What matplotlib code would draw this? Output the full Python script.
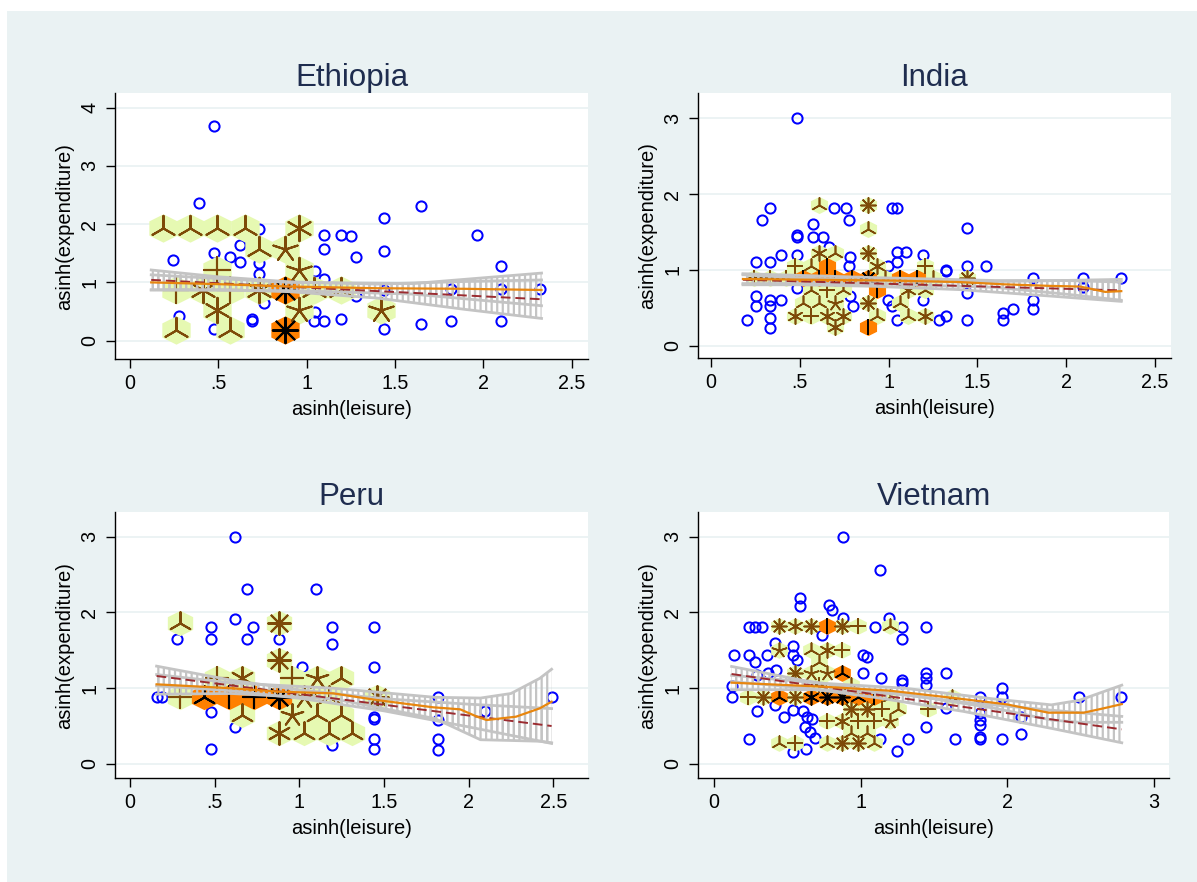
import numpy as np
import matplotlib
matplotlib.use('Agg')
import matplotlib.pyplot as plt
from matplotlib.path import Path
from matplotlib.patches import Rectangle

plt.rcParams['font.family'] = ['Liberation Sans', 'DejaVu Sans']
plt.rcParams['hatch.linewidth'] = 1.6
plt.rcParams['hatch.color'] = '#C4C4C4'

# ---------------- Ethiopia ----------------
eth_circ_x = [0.478, 0.388, 0.246, 0.478, 0.567, 0.624, 0.624, 0.733, 0.733, 0.733, 0.756, 0.690, 0.690, 0.280,
              0.478, 1.050, 1.096, 1.096, 1.096, 1.050, 1.040, 1.100, 1.195, 1.250, 1.280, 1.195, 1.280, 1.440,
              1.440, 1.440, 1.440, 1.647, 1.647, 1.820, 1.820, 1.966, 2.100, 2.100, 2.100, 2.320]
eth_circ_y = [3.69, 2.36, 1.385, 1.51, 1.44, 1.64, 1.345, 1.91, 1.33, 1.14, 0.65, 0.38, 0.34, 0.42,
              0.20, 1.20, 1.81, 1.57, 1.05, 0.50, 0.33, 0.33, 1.81, 1.79, 1.44, 0.38, 0.76, 2.10,
              1.54, 0.87, 0.20, 2.31, 0.28, 0.88, 0.34, 1.81, 1.29, 0.88, 0.34, 0.88]
eth_light_x = [0.185, 0.340, 0.495, 0.652, 0.958, 0.728, 0.879, 0.495, 0.958, 0.261, 0.415, 0.567, 0.728,
               1.040, 1.195, 0.495, 0.958, 1.423, 0.261, 0.567]
eth_light_y = [1.93, 1.93, 1.93, 1.93, 1.93, 1.568, 1.568, 1.214, 1.214, 0.870, 0.870, 0.870, 0.870,
               0.870, 0.870, 0.527, 0.527, 0.527, 0.183, 0.183]
eth_light_n = [3, 3, 3, 3, 6, 3, 5, 4, 5, 4, 6, 4, 6, 3, 3, 6, 5, 5, 3, 3]
eth_dark_x = [0.879, 0.879]
eth_dark_y = [0.870, 0.183]
eth_dark_n = [8, 8]
eth_fit_x = [0.12, 2.33]
eth_fit_y = [1.043, 0.711]
eth_lp_x = [0.12, 0.5, 0.9, 1.4, 1.9, 2.33]
eth_lp_y = [1.00, 0.97, 0.93, 0.90, 0.89, 0.87]
eth_ci_x = [0.12, 0.5, 0.9, 1.4, 1.9, 2.33]
eth_ci_lo = [0.873, 0.876, 0.841, 0.731, 0.536, 0.382]
eth_ci_hi = [1.213, 1.096, 1.011, 0.971, 1.016, 1.042]
eth_lpci_x = [0.12, 0.9, 1.6, 2.33]
eth_lpci_lo = [0.87, 0.86, 0.80, 0.60]
eth_lpci_hi = [1.13, 1.00, 0.98, 1.16]

# ---------------- India ----------------
ind_circ_x = [0.483, 0.332, 0.285, 0.694, 0.760, 0.779, 1.017, 1.049, 0.572, 0.483, 0.483, 0.572, 0.629, 0.666,
              0.253, 0.332, 0.392, 0.483, 0.779, 1.049, 1.098, 1.049, 0.998, 1.195, 1.323, 1.323, 1.443, 1.443,
              1.548, 1.815, 2.093, 2.309, 0.253, 0.253, 0.332, 0.332, 0.332, 0.332, 0.392, 0.204, 0.483, 0.780,
              0.800, 0.996, 1.020, 1.050, 1.195, 1.285, 1.323, 1.443, 1.443, 1.646, 1.646, 1.700, 1.815, 1.815,
              2.093, 0.783]
ind_circ_y = [3.00, 1.82, 1.658, 1.82, 1.82, 1.66, 1.82, 1.82, 1.605, 1.46, 1.44, 1.438, 1.438, 1.306,
              1.10, 1.10, 1.197, 1.197, 1.055, 1.24, 1.24, 1.10, 1.055, 1.197, 0.98, 1.00, 1.557, 1.055,
              1.055, 0.889, 0.889, 0.889, 0.65, 0.52, 0.606, 0.52, 0.37, 0.24, 0.606, 0.339, 0.76, 0.65,
              0.52, 0.606, 0.52, 0.339, 0.606, 0.339, 0.39, 0.69, 0.339, 0.43, 0.339, 0.49, 0.606, 0.49,
              0.78, 1.174]
ind_light_x = [0.610, 0.886, 0.886, 0.610, 0.698, 0.886, 0.473, 0.563, 0.933, 1.205, 0.240, 0.332, 0.424,
               0.980, 1.252, 1.440, 0.563, 0.655, 0.745, 1.111, 1.205, 0.516, 0.610, 0.698, 0.886, 1.064,
               0.473, 0.563, 0.655, 0.745, 0.933, 1.111, 1.205, 0.698]
ind_light_y = [1.856, 1.856, 1.535, 1.219, 1.219, 1.219, 1.051, 1.051, 1.051, 1.051, 0.889, 0.889, 0.889,
               0.889, 0.889, 0.889, 0.735, 0.735, 0.735, 0.735, 0.735, 0.559, 0.559, 0.559, 0.559, 0.559,
               0.392, 0.392, 0.392, 0.392, 0.392, 0.392, 0.392, 0.251]
ind_light_n = [3, 8, 3, 6, 3, 8, 4, 3, 6, 4, 4, 4, 4, 3, 3, 8, 3, 4, 3, 6, 3, 3, 3, 5, 8, 3,
               6, 4, 6, 6, 3, 3, 6, 6]
ind_dark_x = [0.655, 0.516, 0.610, 0.698, 0.792, 0.886, 1.064, 1.158, 0.933, 0.886]
ind_dark_y = [1.051, 0.889, 0.889, 0.889, 0.889, 0.889, 0.889, 0.889, 0.735, 0.251]
ind_dark_n = [2, 2, 2, 2, 2, 8, 2, 2, 2, 2]
ind_fit_x = [0.18, 2.31]
ind_fit_y = [0.87, 0.73]
ind_lp_x = [0.18, 0.6, 1.0, 1.4, 1.65, 1.9, 2.08, 2.22, 2.31]
ind_lp_y = [0.88, 0.87, 0.86, 0.84, 0.81, 0.79, 0.78, 0.71, 0.72]
ind_ci_x = [0.18, 0.5, 0.9, 1.4, 1.9, 2.31]
ind_ci_lo = [0.804, 0.804, 0.785, 0.740, 0.657, 0.585]
ind_ci_hi = [0.936, 0.894, 0.861, 0.840, 0.857, 0.875]
ind_lpci_x = [0.18, 0.9, 1.6, 2.0, 2.31]
ind_lpci_lo = [0.82, 0.82, 0.77, 0.68, 0.60]
ind_lpci_hi = [0.95, 0.90, 0.86, 0.86, 0.84]

# ---------------- Peru ----------------
per_circ_x = [0.620, 0.689, 1.096, 0.620, 0.478, 0.478, 0.280, 0.728, 0.689, 0.880, 1.191, 1.191, 1.441, 1.441,
              1.014, 0.161, 0.187, 0.478, 0.620, 0.478, 1.191, 1.441, 1.441, 1.441, 1.441, 1.817, 1.817, 1.817,
              1.817, 2.096, 2.490]
per_circ_y = [3.00, 2.31, 2.31, 1.913, 1.812, 1.649, 1.649, 1.812, 1.649, 1.649, 1.812, 1.579, 1.812, 1.284,
              1.284, 0.888, 0.888, 0.690, 0.484, 0.198, 0.25, 0.624, 0.589, 0.33, 0.198, 0.888, 0.58, 0.33,
              0.185, 0.70, 0.888]
per_light_x = [0.295, 0.880, 0.880, 0.516, 0.659, 0.955, 1.102, 1.244, 0.295, 1.028, 1.173, 1.457, 0.659,
               0.955, 1.102, 1.244, 0.880, 1.028, 1.173, 1.313]
per_light_y = [1.856, 1.856, 1.372, 1.130, 1.130, 1.130, 1.130, 1.130, 0.888, 0.888, 0.888, 0.888, 0.646,
               0.646, 0.646, 0.646, 0.405, 0.405, 0.405, 0.405]
per_light_n = [3, 8, 8, 4, 6, 4, 5, 3, 4, 5, 3, 8, 3, 5, 3, 3, 6, 3, 3, 3]
per_dark_x = [0.439, 0.585, 0.732, 0.880]
per_dark_y = [0.888, 0.888, 0.888, 0.888]
per_dark_n = [3, 2, 4, 8]
per_fit_x = [0.157, 2.49]
per_fit_y = [1.161, 0.501]
per_lp_x = [0.157, 0.61, 0.88, 1.2, 1.457, 1.79, 1.95, 2.05, 2.106, 2.28, 2.42, 2.49]
per_lp_y = [1.051, 0.998, 0.954, 0.932, 0.844, 0.748, 0.721, 0.624, 0.58, 0.624, 0.734, 0.822]
per_ci_x = [0.157, 0.6, 1.0, 1.5, 2.0, 2.49]
per_ci_lo = [1.031, 0.966, 0.867, 0.701, 0.489, 0.271]
per_ci_hi = [1.291, 1.106, 0.977, 0.861, 0.789, 0.731]
per_lpci_x = [0.157, 0.6, 1.2, 1.8, 2.07, 2.25, 2.42, 2.49]
per_lpci_lo = [0.92, 0.93, 0.86, 0.60, 0.32, 0.31, 0.30, 0.28]
per_lpci_hi = [1.18, 1.07, 1.00, 0.88, 0.87, 0.93, 1.13, 1.25]

# ---------------- Vietnam ----------------
vie_circ_x = [0.877, 1.132, 0.586, 0.586, 0.786, 0.802, 0.877, 1.195, 0.241, 0.280, 0.325, 1.098, 1.284, 1.284,
              1.443, 0.734, 0.136, 0.241, 0.364, 0.280, 0.416, 0.541, 0.541, 0.564, 1.014, 1.045, 1.014, 1.136,
              1.284, 1.284, 1.443, 1.443, 1.443, 1.582, 0.120, 0.120, 0.290, 0.480, 0.541, 0.610, 0.632, 0.666,
              0.620, 0.655, 0.690, 0.241, 0.541, 0.627, 1.132, 1.245, 1.325, 1.443, 1.643, 1.814, 1.814, 1.814,
              1.814, 1.814, 1.814, 1.961, 1.961, 1.961, 2.093, 2.093, 2.490, 2.775, 1.582, 0.416, 0.290, 0.370,
              0.420]
vie_circ_y = [3.00, 2.56, 2.19, 2.08, 2.10, 2.03, 1.92, 1.92, 1.81, 1.81, 1.81, 1.81, 1.81, 1.65,
              1.81, 1.70, 1.438, 1.438, 1.438, 1.35, 1.59, 1.56, 1.438, 1.372, 1.438, 1.407, 1.196, 1.139,
              1.108, 1.064, 1.196, 1.13, 1.042, 1.196, 1.03, 0.888, 0.70, 0.624, 0.712, 0.70, 0.624, 0.60,
              0.49, 0.427, 0.339, 0.33, 0.154, 0.198, 0.33, 0.17, 0.33, 0.484, 0.33, 0.888, 0.668, 0.58,
              0.515, 0.36, 0.33, 1.00, 0.888, 0.33, 0.624, 0.396, 0.888, 0.888, 0.734, 0.78, 1.17, 1.20,
              1.24]
vie_light_x = [0.445, 0.552, 0.659, 0.875, 0.984, 1.200, 0.445, 0.659, 0.768, 0.875, 0.716, 0.552, 0.659,
               0.768, 0.716, 0.932, 0.234, 0.336, 0.552, 1.200, 1.620, 0.932, 1.041, 1.148, 1.257, 1.461,
               0.768, 0.875, 0.984, 1.091, 1.200, 0.932, 1.041, 0.445, 0.552, 0.768, 0.875, 0.984, 1.091]
vie_light_y = [1.821, 1.821, 1.821, 1.821, 1.821, 1.821, 1.504, 1.504, 1.504, 1.504, 1.350, 1.196, 1.196,
               1.196, 1.038, 1.038, 0.880, 0.880, 0.880, 0.880, 0.880, 0.722, 0.722, 0.722, 0.722, 0.722,
               0.567, 0.567, 0.567, 0.567, 0.567, 0.413, 0.413, 0.272, 0.272, 0.272, 0.272, 0.272, 0.272]
vie_light_n = [8, 6, 8, 8, 4, 3, 5, 3, 6, 4, 3, 8, 5, 5, 4, 3, 4, 8, 8, 3, 3, 8, 8, 4, 3, 4,
               4, 6, 4, 4, 5, 3, 3, 3, 4, 3, 8, 8, 3]
vie_dark_x = [0.768, 0.875, 0.445, 0.659, 0.768, 0.875, 0.984, 1.091]
vie_dark_y = [1.821, 1.196, 0.880, 0.880, 0.880, 0.880, 0.880, 0.880]
vie_dark_n = [2, 3, 3, 6, 8, 8, 3, 2]
vie_fit_x = [0.12, 2.78]
vie_fit_y = [1.187, 0.457]
vie_lp_x = [0.12, 0.745, 1.2, 1.655, 1.995, 2.28, 2.52, 2.655, 2.78]
vie_lp_y = [1.073, 1.02, 0.967, 0.866, 0.787, 0.677, 0.677, 0.734, 0.79]
vie_ci_x = [0.12, 0.6, 1.1, 1.7, 2.3, 2.78]
vie_ci_lo = [1.087, 1.006, 0.878, 0.694, 0.470, 0.280]
vie_ci_hi = [1.287, 1.106, 0.958, 0.814, 0.710, 0.628]
vie_lpci_x = [0.12, 0.7, 1.3, 1.9, 2.3, 2.49, 2.78]
vie_lpci_lo = [0.98, 0.98, 0.92, 0.74, 0.58, 0.55, 0.55]
vie_lpci_hi = [1.17, 1.07, 1.00, 0.86, 0.78, 0.84, 1.04]

# ---------------- ticks / labels ----------------
x_ticks_a = [0, 0.5, 1, 1.5, 2, 2.5]
x_labels_a = ['0', '.5', '1', '1.5', '2', '2.5']
x_ticks_v = [0, 1, 2, 3]
x_labels_v = ['0', '1', '2', '3']
y_ticks_eth = [0, 1, 2, 3, 4]
y_ticks_oth = [0, 1, 2, 3]
titles = ['Ethiopia', 'India', 'Peru', 'Vietnam']
x_title = 'asinh(leisure)'
y_title = 'asinh(expenditure)'

# ---------------- styles ----------------
BG = '#EAF2F3'
BLUE = '#0000FF'
LIGHT = '#E6F9B2'
PETAL = '#7D4A08'
DARK = '#FF8000'
GRAY = '#C4C4C4'
FITC = '#9B2B30'
LPC = '#E8860E'
TITLEC = '#1F2D4F'

W, H = 1197, 882
fig = plt.figure(figsize=(W / 100, H / 100), dpi=100, facecolor='white')
fig.patches.append(Rectangle((7 / W, 0), 1 - 7 / W, (H - 11) / H, transform=fig.transFigure,
                             facecolor=BG, edgecolor='none', zorder=-10))

HEX = Path([(0, 0.5), (0.5, 0.25), (0.5, -0.25), (0, -0.5), (-0.5, -0.25), (-0.5, 0.25), (0, 0.5)],
           [Path.MOVETO] + [Path.LINETO] * 5 + [Path.CLOSEPOLY])


def add_axes_px(l, t, r, b):
    return fig.add_axes([l / W, 1 - b / H, (r - l) / W, (b - t) / H])


def petals(ax, xs, ys, ns, size_px, color, lw, z):
    xs, ys, ns = np.asarray(xs), np.asarray(ys), np.asarray(ns)
    for n in np.unique(ns):
        m = ns == n
        ax.scatter(xs[m], ys[m], marker=(int(n), 2, 0), s=(size_px * 0.72) ** 2,
                   color=color, linewidths=lw, zorder=z)


def panel(box, xlim, ylim, title, xt, xtl, yt, circ, light, dark, fit, lp, ci, lpci, hex_px, plw):
    ax = add_axes_px(*box)
    ax.set_facecolor('white')
    ax.set_xlim(*xlim)
    ax.set_ylim(*ylim)
    for s in ('top', 'right'):
        ax.spines[s].set_visible(False)
    for s in ('left', 'bottom'):
        ax.spines[s].set_color('black')
        ax.spines[s].set_linewidth(1.0)
    ax.set_xticks(xt)
    ax.set_xticklabels(xtl)
    ax.set_yticks(yt)
    ax.set_yticklabels([str(v) for v in yt])
    ax.tick_params(axis='both', direction='out', length=6.5, width=1.0, color='black',
                   labelsize=14.2, labelcolor='black')
    ax.tick_params(axis='x', pad=4)
    ax.tick_params(axis='y', pad=5, labelrotation=90)
    for lab in ax.get_yticklabels():
        lab.set_va('center')
    ax.yaxis.grid(True, color=BG, lw=1.3)
    ax.set_axisbelow(True)
    ax.set_title(title, fontsize=22.5, color=TITLEC, pad=4)
    ax.set_xlabel(x_title, fontsize=14.5, labelpad=5)
    ax.set_ylabel(y_title, fontsize=14.5, labelpad=4)

    # individual observations
    ax.plot(circ[0], circ[1], ls='none', marker='o', ms=7.3, mfc='none', mec=BLUE, mew=1.45, zorder=2)
    # sunflowers
    hs = (hex_px * 0.72 + 0.6) ** 2
    ax.scatter(light[0], light[1], marker=HEX, s=hs, color=LIGHT, linewidths=0, zorder=3)
    ax.scatter(dark[0], dark[1], marker=HEX, s=hs, color=DARK, linewidths=0, zorder=3)
    petals(ax, light[0], light[1], light[2], hex_px * 0.92, PETAL, plw, 4)
    petals(ax, dark[0], dark[1], dark[2], hex_px * 0.92, 'black', plw, 4)
    # confidence bands (rcap style)
    for bx, blo, bhi in (ci, lpci):
        ax.fill_between(bx, blo, bhi, facecolor='none', edgecolor=GRAY, hatch='|||', linewidth=0, zorder=5)
        ax.plot(bx, blo, color=GRAY, lw=2.0, zorder=5)
        ax.plot(bx, bhi, color=GRAY, lw=2.0, zorder=5)
    ax.plot(fit[0], fit[1], color=FITC, lw=1.4, ls=(0, (5, 2.5)), zorder=6)
    ax.plot(lp[0], lp[1], color=LPC, lw=1.6, zorder=7)
    return ax


panel((115, 93, 588, 359.3), (-0.085, 2.593), (-0.319, 4.249), titles[0], x_ticks_a, x_labels_a, y_ticks_eth,
      (eth_circ_x, eth_circ_y), (eth_light_x, eth_light_y, eth_light_n), (eth_dark_x, eth_dark_y, eth_dark_n),
      (eth_fit_x, eth_fit_y), (eth_lp_x, eth_lp_y), (eth_ci_x, eth_ci_lo, eth_ci_hi),
      (eth_lpci_x, eth_lpci_lo, eth_lpci_hi), 27.5, 1.5)
panel((698, 93, 1171, 358.3), (-0.073, 2.590), (-0.166, 3.334), titles[1], x_ticks_a, x_labels_a, y_ticks_oth,
      (ind_circ_x, ind_circ_y), (ind_light_x, ind_light_y, ind_light_n), (ind_dark_x, ind_dark_y, ind_dark_n),
      (ind_fit_x, ind_fit_y), (ind_lp_x, ind_lp_y), (ind_ci_x, ind_ci_lo, ind_ci_hi),
      (ind_lpci_x, ind_lpci_lo, ind_lpci_hi), 16.3, 1.2)
panel((115, 512, 588, 778.3), (-0.0886, 2.705), (-0.189, 3.325), titles[2], x_ticks_a, x_labels_a, y_ticks_oth,
      (per_circ_x, per_circ_y), (per_light_x, per_light_y, per_light_n), (per_dark_x, per_dark_y, per_dark_n),
      (per_fit_x, per_fit_y), (per_lp_x, per_lp_y), (per_ci_x, per_ci_lo, per_ci_hi),
      (per_lpci_x, per_lpci_lo, per_lpci_hi), 24.5, 1.5)
panel((698, 512, 1169, 778.3), (-0.109, 3.102), (-0.189, 3.325), titles[3], x_ticks_v, x_labels_v, y_ticks_oth,
      (vie_circ_x, vie_circ_y), (vie_light_x, vie_light_y, vie_light_n), (vie_dark_x, vie_dark_y, vie_dark_n),
      (vie_fit_x, vie_fit_y), (vie_lp_x, vie_lp_y), (vie_ci_x, vie_ci_lo, vie_ci_hi),
      (vie_lpci_x, vie_lpci_lo, vie_lpci_hi), 15.9, 1.2)

fig.savefig('out.png', dpi=100)
